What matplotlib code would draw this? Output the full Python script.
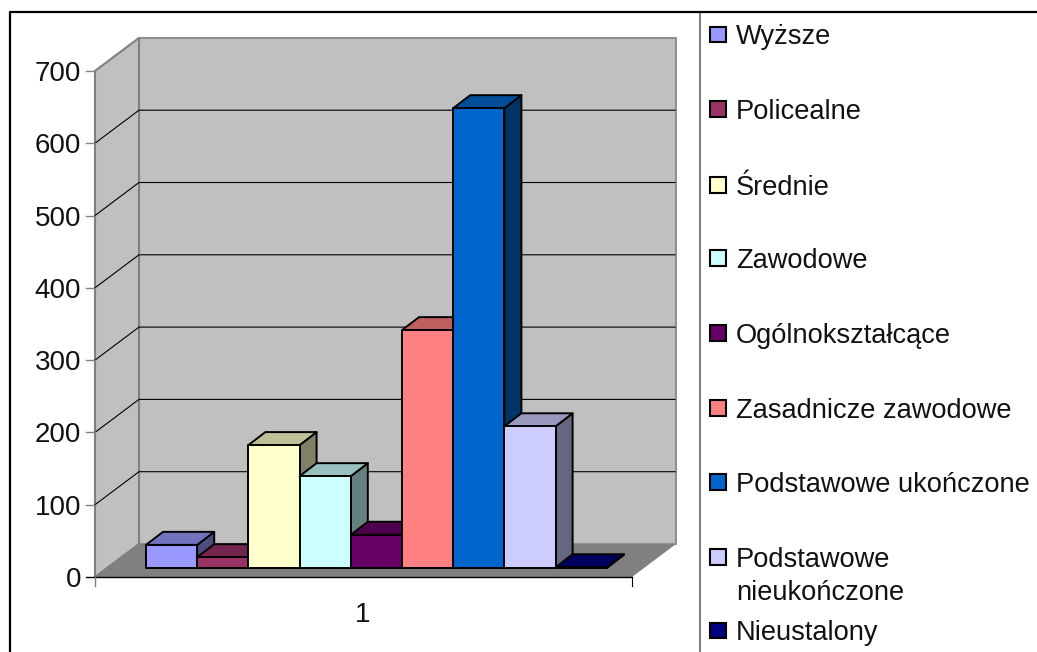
import matplotlib
matplotlib.use('Agg')
import matplotlib.pyplot as plt
from matplotlib.patches import Polygon, Rectangle
from matplotlib.colors import to_rgb

plt.rcParams['font.family'] = ['Liberation Sans', 'DejaVu Sans']

# data
names = ['Wyższe', 'Policealne', 'Średnie', 'Zawodowe', 'Ogólnokształcące',
         'Zasadnicze zawodowe', 'Podstawowe ukończone', 'Podstawowe\nnieukończone', 'Nieustalony']
values = [32, 15, 170, 127, 46, 329, 636, 196, 1]
colors = ['#9999FF', '#993366', '#FFFFCC', '#CCFFFF', '#660066',
          '#FF8080', '#0066CC', '#CCCCFF', '#000080']
ticks = [0, 100, 200, 300, 400, 500, 600, 700]
legend_y = [34.5, 109, 185, 258, 333, 408, 482, 557, 630.5]

# geometry of the fake 3d box, in pixels
X0, X1 = 95, 632
Y0, UNIT = 577, 0.723
WALL_DX, WALL_DY = 44, -33
BAR_X, BAR_W, BAR_Y = 146, 51.2, 568
DEPTH_DX, DEPTH_DY = 17, -13


def shade(c, k):
    return tuple(v * k for v in to_rgb(c))


def poly(ax, pts, fc, ec='k', lw=1.0, z=1):
    ax.add_patch(Polygon(pts, closed=True, fc=fc, ec=ec, lw=lw, zorder=z, joinstyle='round'))


fig = plt.figure(figsize=(10.37, 6.52), dpi=100)
ax = fig.add_axes([0, 0, 1, 1])
ax.set_xlim(0, 1037)
ax.set_ylim(652, 0)
ax.axis('off')

# outer frame and legend separator
ax.plot([9.5, 9.5, 1037], [652, 11.5, 11.5], color='k', lw=1.6, zorder=5)
ax.plot([699.5, 699.5], [11.5, 652], color='#808080', lw=1.5, zorder=4)

ytop = Y0 - ticks[-1] * UNIT
xb0, xb1 = X0 + WALL_DX, X1 + WALL_DX

# walls and floor
poly(ax, [(xb0, ytop + WALL_DY), (xb1, ytop + WALL_DY), (xb1, Y0 + WALL_DY), (xb0, Y0 + WALL_DY)],
     '#C0C0C0', ec='#909090', lw=1.5)
poly(ax, [(X0, ytop), (xb0, ytop + WALL_DY), (xb0, Y0 + WALL_DY), (X0, Y0)],
     '#C0C0C0', ec='#808080', lw=1.5)
poly(ax, [(X0, Y0), (xb0, Y0 + WALL_DY), (xb1, Y0 + WALL_DY), (X1, Y0)], '#808080', ec='none')

# gridlines and ticks
for t in ticks:
    y = Y0 - t * UNIT
    if 0 < t < ticks[-1]:
        ax.plot([X0, xb0, xb1 - 1], [y, y + WALL_DY, y + WALL_DY], color='k', lw=0.8, zorder=2)
    ax.plot([X0 - 9, X0], [y, y], color='k' if t == 0 else '#808080', lw=1.0, zorder=2)
    ax.text(X0 - 14, y, str(t), ha='right', va='center_baseline', fontsize=20, color='#111111')

ax.plot([X0, X1], [Y0, Y0], color='k', lw=1.0, zorder=2)
ax.plot([X0, X0], [Y0, Y0 + 9], color='#808080', lw=1.0, zorder=2)
ax.plot([X1, X1], [Y0, Y0 + 9], color='k', lw=0.8, zorder=2)
ax.text((X0 + X1) / 2 - 0.5, 612, '1', ha='center', va='center_baseline', fontsize=20, color='#111111')

# bars, left to right
for i, (v, c) in enumerate(zip(values, colors)):
    l = BAR_X + i * BAR_W
    r = l + BAR_W
    t = BAR_Y - v * UNIT
    z = 3 + i * 0.01
    poly(ax, [(r, BAR_Y), (r + DEPTH_DX, BAR_Y + DEPTH_DY), (r + DEPTH_DX, t + DEPTH_DY), (r, t)],
         shade(c, 0.5), lw=1.4, z=z)
    poly(ax, [(l, t), (l + DEPTH_DX, t + DEPTH_DY), (r + DEPTH_DX, t + DEPTH_DY), (r, t)],
         shade(c, 0.75), lw=1.4, z=z)
    poly(ax, [(l, BAR_Y), (l, t), (r, t), (r, BAR_Y)], c, lw=1.4, z=z)

# legend
for name, c, y in zip(names, colors, legend_y):
    ax.add_patch(Rectangle((710.3, y - 7.7), 15.5, 15.5, fc=c, ec='k', lw=1.5, zorder=3))
    if '\n' in name:
        first, second = name.split('\n')
        ax.text(736, y, first, ha='left', va='center_baseline', fontsize=19.6, color='#111111')
        ax.text(736, y + 33, second, ha='left', va='center_baseline', fontsize=19.6, color='#111111')
    else:
        ax.text(736, y, name, ha='left', va='center_baseline', fontsize=19.6, color='#111111')

fig.savefig('out.png', dpi=100)
